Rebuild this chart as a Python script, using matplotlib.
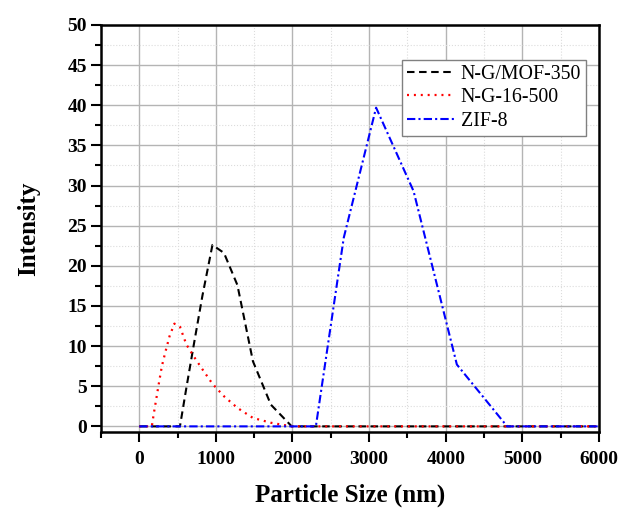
import matplotlib
matplotlib.use('Agg')
import matplotlib.pyplot as plt
from matplotlib.ticker import MultipleLocator

# particle size bins (nm)
sizes = [0.4, 164.2, 190.1, 220.2, 255.0, 295.3, 342.0, 396.1, 458.7, 531.2,
         615.1, 712.4, 825.0, 955.4, 1106, 1281, 1484, 1718, 1990, 2305,
         2669, 3091, 3580, 4145, 4801, 5560, 6439]

ng_mof_350 = [0, 0, 0, 0, 0, 0, 0, 0, 0, 0,
              4.8, 10.2, 16.3, 22.6, 21.6, 17.6, 8.1, 2.7, 0, 0,
              0, 0, 0, 0, 0, 0, 0]

ng_16_500 = [0, 0, 1.6, 3.3, 5.3, 7.5, 9.3, 11.25, 12.8, 12.4,
             10.2, 8.7, 7.1, 5.3, 3.75, 2.3, 1.05, 0.45, 0, 0,
             0, 0, 0, 0, 0, 0, 0]

zif_8 = [0, 0, 0, 0, 0, 0, 0, 0, 0, 0,
         0, 0, 0, 0, 0, 0, 0, 0, 0, 0,
         23.5, 39.7, 29.3, 7.7, 0, 0, 0]

labels = ['N-G/MOF-350', 'N-G-16-500', 'ZIF-8']

plt.rcParams['font.family'] = 'Liberation Serif'

fig = plt.figure(figsize=(6.23, 5.09), dpi=100)
ax = fig.add_axes([0.162, 0.1513, 0.7995, 0.7996])

ax.plot(sizes, ng_mof_350, color='black', lw=1.5, linestyle=(0, (3.6, 2.2)), label=labels[0])
ax.plot(sizes, ng_16_500, color='red', lw=1.6, linestyle=(0, (0.9, 2.2)), label=labels[1])
ax.plot(sizes, zif_8, color='blue', lw=1.5, linestyle=(0, (4, 1.5, 1, 1.5)), label=labels[2])

ax.set_xlim(-500, 6000)
ax.set_ylim(-0.7, 50)

ax.xaxis.set_major_locator(MultipleLocator(1000))
ax.xaxis.set_minor_locator(MultipleLocator(500))
ax.yaxis.set_major_locator(MultipleLocator(5))
ax.yaxis.set_minor_locator(MultipleLocator(2.5))
ax.set_xticks(range(0, 6001, 1000))

ax.grid(which='major', color='#b4b4b4', lw=1.0, ls='-')
ax.grid(which='minor', color='#dcdcdc', lw=0.8, ls=':')
ax.set_axisbelow(True)

for sp in ax.spines.values():
    sp.set_linewidth(1.8)

ax.tick_params(which='major', direction='out', length=7, width=1.5, labelsize=14, pad=7)
ax.tick_params(which='minor', direction='out', length=4, width=1.5)
ax.tick_params(axis='y', pad=3)
for t in ax.get_xticklabels() + ax.get_yticklabels():
    t.set_fontweight('bold')

ax.set_xlabel('Particle Size (nm)', fontsize=18, fontweight='bold', labelpad=11)
ax.set_ylabel('Intensity', fontsize=18, fontweight='bold', labelpad=20)

leg = ax.legend(loc='upper right', bbox_to_anchor=(0.974, 0.914), borderaxespad=0,
                fontsize=14.3, fancybox=False, framealpha=1, edgecolor='#808080',
                handlelength=2.4, handletextpad=0.3, labelspacing=0.22, borderpad=0.25)
leg.get_frame().set_linewidth(1.0)

fig.savefig('out.png', dpi=100)
